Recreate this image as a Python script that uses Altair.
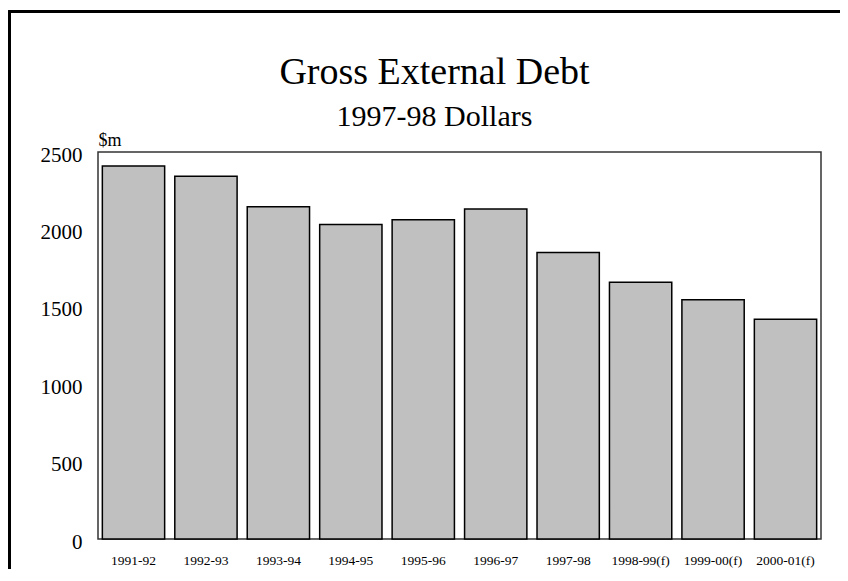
import altair as alt
import pandas as pd

years = ["1991-92", "1992-93", "1993-94", "1994-95", "1995-96",
         "1996-97", "1997-98", "1998-99(f)", "1999-00(f)", "2000-01(f)"]
debt = [2410, 2343, 2147, 2031, 2063, 2132, 1850, 1658, 1546, 1419]
y_ticks = [0, 500, 1000, 1500, 2000, 2500]

df = pd.DataFrame({"year": years, "debt": debt})

FONT = "Liberation Serif"
W, H = 723, 387

bars = alt.Chart(df).mark_bar(
    fill="#c0c0c0", stroke="#000000", strokeWidth=1.5
).encode(
    x=alt.X("year:N", sort=years,
            scale=alt.Scale(paddingInner=0.14, paddingOuter=0.06),
            axis=alt.Axis(title=None, labelAngle=0, labelFont=FONT,
                          labelFontSize=13.5, labelColor="black",
                          ticks=False, domain=False, labelPadding=14)),
    y=alt.Y("debt:Q", scale=alt.Scale(domain=[0, 2500], nice=False),
            axis=alt.Axis(values=y_ticks, format="d", title="$m",
                          titleAngle=0, titleX=0, titleY=-7,
                          titleAlign="left", titleBaseline="alphabetic",
                          titleFont=FONT, titleFontSize=18,
                          titleFontWeight="normal", titleColor="black",
                          labelFont=FONT, labelFontSize=21,
                          labelColor="black", ticks=False, domain=False,
                          grid=False, labelPadding=16, labelOffset=3)),
)

frame_v = alt.Chart(df).mark_rule(color="#000000", strokeWidth=2).encode(
    x=alt.value(-88.5), y=alt.value(-141), y2=alt.value(H + 60)
)
frame_h = alt.Chart(df).mark_rule(color="#000000", strokeWidth=2).encode(
    x=alt.value(-89.5), x2=alt.value(W + 40), y=alt.value(-140.5)
)

chart = alt.layer(bars, frame_v, frame_h).properties(
    width=W, height=H,
    title=alt.TitleParams(
        text="Gross External Debt", subtitle="1997-98 Dollars",
        font=FONT, fontSize=38, fontWeight="normal", color="black",
        subtitleFont=FONT, subtitleFontSize=30, subtitleColor="black",
        anchor="middle", dx=-25, offset=-122, subtitlePadding=10,
    ),
    autosize=alt.AutoSizeParams(type="none"),
    padding={"left": 90, "top": 144, "right": 19, "bottom": 30},
).configure_view(stroke="#333333", strokeWidth=1.5)

chart.save("out.html", embed_options={"renderer": "svg", "actions": False})
